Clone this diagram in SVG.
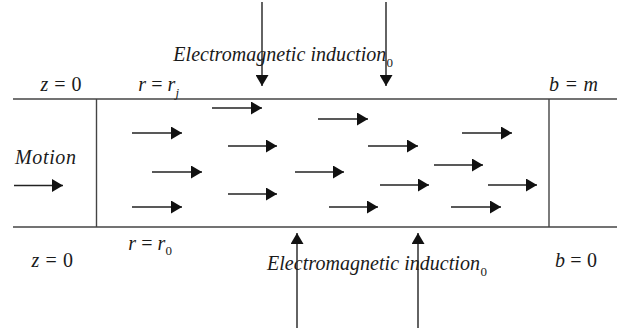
<svg xmlns="http://www.w3.org/2000/svg" width="623" height="332" viewBox="0 0 623 332">
<style>
text{font-family:"Liberation Serif","Times New Roman",serif;font-size:20px;fill:#1a1a1a}
.it{font-style:italic}
.sub{font-size:13px;font-style:normal}
.wall{stroke:#444;stroke-width:1.4;fill:none}
.arr{stroke:#222;stroke-width:1.4;fill:none;marker-end:url(#ah)}
</style>
<defs>
<marker id="ah" markerUnits="userSpaceOnUse" markerWidth="12" markerHeight="13" refX="11" refY="6.5" orient="auto">
<path d="M0,0 L11,6.5 L0,13 z" fill="#111"/>
</marker>
</defs>
<rect width="623" height="332" fill="#fff"/>
<g id="channel">
<line class="wall" x1="13" y1="99" x2="617" y2="99"/>
<line class="wall" x1="13" y1="227" x2="617" y2="227"/>
<line class="wall" x1="96.5" y1="99" x2="96.5" y2="227"/>
<line class="wall" x1="549" y1="99" x2="549" y2="227"/>
</g>
<g id="labels">
<text x="40.5" y="91" textLength="41"><tspan class="it">z</tspan> = 0</text>
<text x="138.3" y="91" textLength="37"><tspan class="it">r</tspan> = <tspan class="it">r</tspan></text>
<text x="175.5" y="97" class="it" style="font-size:13px">j</text>
<text x="549" y="91" textLength="49"><tspan class="it">b</tspan> = <tspan class="it">m</tspan></text>
<text x="15" y="164" class="it" textLength="61">Motion</text>
<text x="128.3" y="250" textLength="37"><tspan class="it">r</tspan> = <tspan class="it">r</tspan></text>
<text x="165.5" y="255" class="sub">0</text>
<text x="31.5" y="267" textLength="41.5"><tspan class="it">z</tspan> = 0</text>
<text x="555" y="267" textLength="42"><tspan class="it">b</tspan> = 0</text>
<text x="173.3" y="61" class="it" textLength="213">Electromagnetic induction</text>
<text x="386.5" y="67" class="sub">0</text>
<text x="267" y="270" class="it" textLength="213">Electromagnetic induction</text>
<text x="480.5" y="276" class="sub">0</text>
</g>
<g id="connectors">
<line class="arr" x1="262" y1="2" x2="262" y2="86"/>
<line class="arr" x1="386" y1="2" x2="386" y2="86"/>
<line class="arr" x1="297" y1="328" x2="297" y2="233"/>
<line class="arr" x1="418" y1="328" x2="418" y2="233"/>
<line class="arr" x1="14" y1="185.5" x2="63" y2="185.5"/>
<line class="arr" x1="212" y1="108" x2="262" y2="108"/>
<line class="arr" x1="318" y1="119" x2="368" y2="119"/>
<line class="arr" x1="132" y1="133" x2="182" y2="133"/>
<line class="arr" x1="462" y1="133" x2="512" y2="133"/>
<line class="arr" x1="228" y1="146" x2="277" y2="146"/>
<line class="arr" x1="368" y1="146" x2="418" y2="146"/>
<line class="arr" x1="434" y1="165" x2="483" y2="165"/>
<line class="arr" x1="152" y1="172" x2="202" y2="172"/>
<line class="arr" x1="295" y1="172" x2="344" y2="172"/>
<line class="arr" x1="380" y1="185" x2="429" y2="185"/>
<line class="arr" x1="488" y1="185" x2="537" y2="185"/>
<line class="arr" x1="228" y1="194" x2="277" y2="194"/>
<line class="arr" x1="132" y1="207" x2="182" y2="207"/>
<line class="arr" x1="329" y1="207" x2="378" y2="207"/>
<line class="arr" x1="451" y1="207" x2="501" y2="207"/>
</g>
</svg>
